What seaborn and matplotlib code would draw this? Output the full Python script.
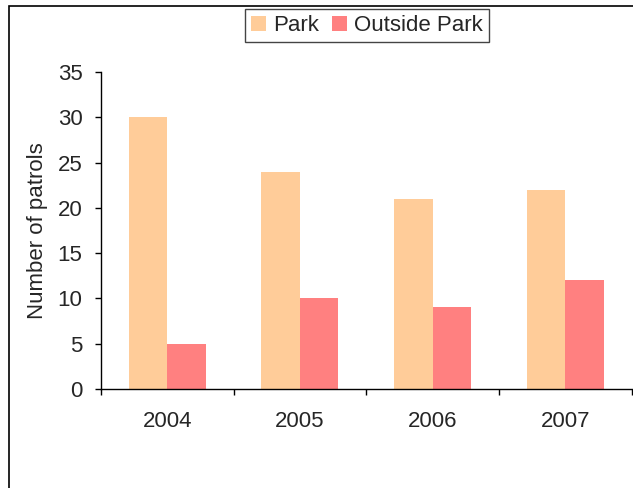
import matplotlib
matplotlib.use("Agg")
import matplotlib.pyplot as plt
from matplotlib.patches import Rectangle
import seaborn as sns
import pandas as pd

# Patrol counts per year
years = ["2004", "2005", "2006", "2007"]
park = [30, 24, 21, 22]
outside_park = [5, 10, 9, 12]
series_names = ["Park", "Outside Park"]
colors = ["#FFCC99", "#FF8080"]
y_ticks = [0, 5, 10, 15, 20, 25, 30, 35]

df = pd.DataFrame({
    "Year": years * 2,
    "Patrols": park + outside_park,
    "Area": [series_names[0]] * len(years) + [series_names[1]] * len(years),
})

sns.set_style("white")
plt.rcParams["font.family"] = ["Liberation Sans", "DejaVu Sans"]
FS = 16

W, H = 633, 488
fig = plt.figure(figsize=(W / 100, H / 100), dpi=100)
ax_left, ax_right, ax_top, ax_bottom = 101, 631.5, 72, 389
ax = fig.add_axes([ax_left / W, 1 - ax_bottom / H,
                   (ax_right - ax_left) / W, (ax_bottom - ax_top) / H])

sns.barplot(data=df, x="Year", y="Patrols", hue="Area", order=years,
            hue_order=series_names, palette=colors, width=0.58,
            saturation=1, linewidth=0, edgecolor="none", ax=ax, legend=True)

# Axes styling
for side in ("top", "right"):
    ax.spines[side].set_visible(False)
for side in ("left", "bottom"):
    ax.spines[side].set_color("black")
    ax.spines[side].set_linewidth(1.0)

ax.set_ylim(0, 35)
ax.set_yticks(y_ticks)
ax.set_xlim(-0.5, len(years) - 0.5)
ax.set_xticks(range(len(years)))
ax.set_xticklabels(years)
ax.set_xticks([i - 0.5 for i in range(len(years) + 1)], minor=True)
ax.tick_params(axis="x", which="major", length=0, pad=16, labelsize=FS)
ax.tick_params(axis="x", which="minor", length=4.3, width=1, direction="out",
               color="black", bottom=True)
ax.tick_params(axis="y", length=4.3, width=1, direction="out", color="black",
               left=True, pad=9, labelsize=FS)
ax.set_xlabel("")
ax.set_ylabel("Number of patrols", fontsize=FS)
ax.yaxis.set_label_coords((48 - ax_left) / (ax_right - ax_left), 0.5)

# Legend across the top
handles, labels = ax.get_legend_handles_labels()
ax.get_legend().remove()
leg = fig.legend(handles, labels, loc="upper left",
                 bbox_to_anchor=(245 / W, 1 - 9 / H), ncol=2,
                 fontsize=FS, frameon=True, fancybox=False, framealpha=1,
                 edgecolor="#444444", borderpad=0.28, handlelength=0.68,
                 handleheight=0.66, handletextpad=0.3, columnspacing=0.6,
                 borderaxespad=0)
leg.get_frame().set_linewidth(1.0)

# Outer chart frame
fig.add_artist(Rectangle((9 / W, -0.5), 2.0, 0.5 + 1 - 6 / H,
                         transform=fig.transFigure, fill=False,
                         edgecolor="black", linewidth=1.2, clip_on=False))

fig.savefig("out.png", dpi=100)
